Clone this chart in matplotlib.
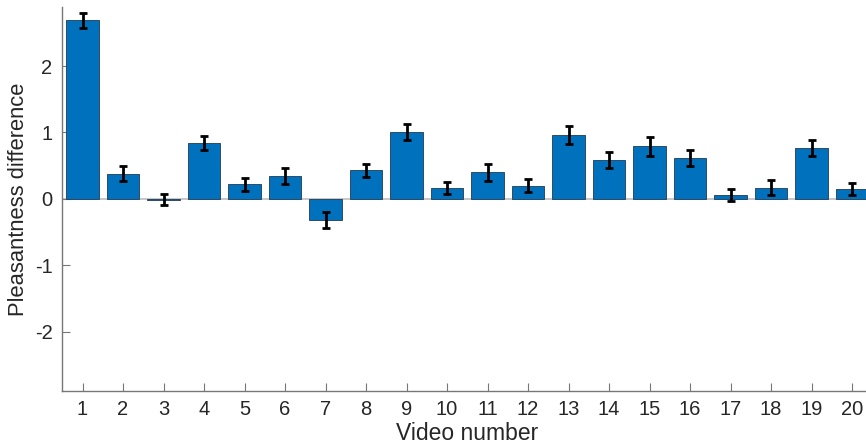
import matplotlib
matplotlib.use("Agg")
import matplotlib.pyplot as plt
import numpy as np

plt.rcParams['font.family'] = ['Liberation Sans', 'DejaVu Sans']
plt.rcParams['axes.unicode_minus'] = False

videos = np.arange(1, 21)
diff_mean = [2.69, 0.38, -0.01, 0.84, 0.22, 0.35, -0.32, 0.43, 1.00, 0.16,
             0.40, 0.20, 0.96, 0.59, 0.79, 0.61, 0.06, 0.17, 0.77, 0.15]
diff_sem = [0.11, 0.11, 0.09, 0.10, 0.095, 0.12, 0.115, 0.10, 0.12, 0.093,
            0.13, 0.093, 0.14, 0.12, 0.14, 0.12, 0.095, 0.115, 0.12, 0.093]

fig = plt.figure(figsize=(8.66, 4.48), dpi=100)
ax = fig.add_axes([62.3/866, 1-390.7/448, 810/866, (390.7-7)/448])

ax.bar(videos, diff_mean, width=0.8, color='#0072BD', edgecolor='#1f3a55',
       linewidth=0.6, zorder=2)
ax.axhline(0, color='#bdbdbd', lw=1.2, zorder=1)
ax.errorbar(videos, diff_mean, yerr=diff_sem, fmt='none', ecolor='black',
            elinewidth=2.0, capsize=3, capthick=2.0, zorder=3)

ax.set_xlim(0.5, 20.5)
ax.set_ylim(-2.89, 2.89)
ax.set_xticks(videos)
ax.set_yticks([-2, -1, 0, 1, 2])

for s in ['top', 'right']:
    ax.spines[s].set_visible(False)
for s in ['left', 'bottom']:
    ax.spines[s].set_color('#777777')
    ax.spines[s].set_linewidth(1.0)
ax.tick_params(direction='in', length=6, color='#777777', labelsize=14.5,
               labelcolor='#262626', pad=7)

ax.set_xlabel('Video number', fontsize=16.5, color='#262626', labelpad=2)
ax.set_ylabel('Pleasantness difference', fontsize=15.8, color='#262626', labelpad=4)

fig.savefig('out.png', dpi=100)
